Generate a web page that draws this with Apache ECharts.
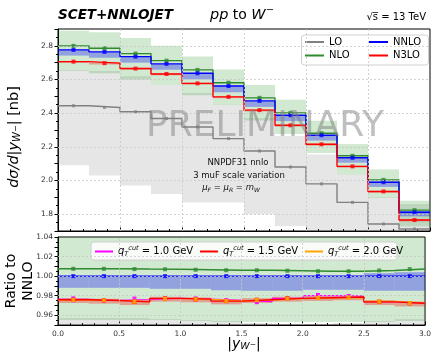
<!DOCTYPE html>
<html><head><meta charset="utf-8">
<script src="https://cdn.jsdelivr.net/npm/echarts@6/dist/echarts.min.js"></script>
<style>html,body{margin:0;padding:0;background:#fff}#c{width:434px;height:352px}</style>
</head><body><div id="c"></div>
<script>
// ---- data (12 bins in |y_W-|) ----
const binEdges = [0, 0.25, 0.5, 0.75, 1.0, 1.25, 1.5, 1.75, 2.0, 2.25, 2.5, 2.75, 3.0];
const yTicksTop = [1.8, 2.0, 2.2, 2.4, 2.6, 2.8];
const yTicksRatio = [0.96, 0.98, 1.00, 1.02];
const xTicks = [0.5, 1.0, 1.5, 2.0, 2.5];

// top panel: dsigma/d|y| [nb]
const lo      = [2.444, 2.434, 2.408, 2.368, 2.318, 2.249, 2.175, 2.080, 1.980, 1.870, 1.742, 1.712];
const loUp    = [2.657, 2.650, 2.620, 2.567, 2.520, 2.450, 2.370, 2.265, 2.155, 2.035, 1.900, 1.860];
const loDn    = [2.090, 2.030, 1.970, 1.920, 1.870, 1.870, 1.800, 1.730, 1.650, 1.560, 1.460, 1.430];
const nlo     = [2.800, 2.786, 2.754, 2.712, 2.657, 2.581, 2.491, 2.402, 2.281, 2.147, 2.004, 1.824];
const nloUp   = [2.889, 2.880, 2.846, 2.800, 2.736, 2.660, 2.567, 2.479, 2.355, 2.216, 2.066, 1.880];
const nloDn   = [2.652, 2.637, 2.600, 2.567, 2.507, 2.448, 2.357, 2.276, 2.163, 2.035, 1.897, 1.727];
const nnlo    = [2.776, 2.764, 2.736, 2.693, 2.637, 2.561, 2.473, 2.388, 2.269, 2.135, 1.990, 1.811];
const nnloUp  = [2.776, 2.764, 2.736, 2.693, 2.637, 2.561, 2.473, 2.388, 2.270, 2.136, 1.995, 1.818];
const nnloDn  = [2.742, 2.729, 2.700, 2.658, 2.601, 2.524, 2.437, 2.353, 2.237, 2.106, 1.962, 1.787];
const n3lo    = [2.706, 2.697, 2.665, 2.633, 2.577, 2.497, 2.418, 2.328, 2.215, 2.084, 1.935, 1.765];
const n3loUp  = [2.710, 2.701, 2.669, 2.637, 2.581, 2.501, 2.422, 2.332, 2.219, 2.088, 1.939, 1.769];
const n3loDn  = [2.698, 2.689, 2.657, 2.625, 2.569, 2.489, 2.410, 2.320, 2.207, 2.076, 1.927, 1.757];

// ratio panel: ratio to NNLO
const rNlo    = [1.0075, 1.0075, 1.0072, 1.0070, 1.0065, 1.0060, 1.0060, 1.0055, 1.0050, 1.0050, 1.0058, 1.0072];
const rNloUp  = [1.045, 1.045, 1.045, 1.045, 1.045, 1.045, 1.045, 1.045, 1.045, 1.045, 1.045, 1.045];
const rNloDn  = [0.955, 0.955, 0.955, 0.955, 0.954, 0.953, 0.953, 0.953, 0.953, 0.953, 0.953, 0.954];
const rNnlo   = [1.000, 1.000, 1.000, 1.000, 1.000, 1.000, 1.000, 1.000, 1.000, 1.000, 1.000, 1.000];
const rNnloUp = [1.000, 1.000, 1.000, 1.000, 1.000, 1.000, 1.000, 1.000, 1.000, 1.000, 1.003, 1.004];
const rNnloDn = [0.988, 0.988, 0.988, 0.987, 0.987, 0.9855, 0.985, 0.985, 0.986, 0.986, 0.985, 0.985];
const rLoUp   = [0.957, 0.957, 0.957, 0.956, 0.955, 0.954, 0.952, 0.951, 0.951, 0.952, 0.954, 0.956];
const rLoDn   = [0.880, 0.880, 0.880, 0.880, 0.880, 0.880, 0.880, 0.880, 0.880, 0.880, 0.880, 0.880];
const rQ10    = [0.9762, 0.9752, 0.9760, 0.9772, 0.9765, 0.9752, 0.9740, 0.9772, 0.9800, 0.9795, 0.9737, 0.9723];
const rQ15    = [0.9758, 0.9751, 0.9737, 0.9772, 0.9765, 0.9744, 0.9758, 0.9772, 0.9779, 0.9786, 0.9737, 0.9723];
const rQ20    = [0.9755, 0.9752, 0.9740, 0.9770, 0.9762, 0.9746, 0.9755, 0.9770, 0.9776, 0.9782, 0.9740, 0.9725];
const rQ15Up  = [0.9775, 0.9768, 0.9754, 0.9789, 0.9782, 0.9761, 0.9775, 0.9789, 0.9796, 0.9803, 0.9754, 0.9740];
const rQ15Dn  = [0.9725, 0.9718, 0.9704, 0.9739, 0.9732, 0.9711, 0.9725, 0.9739, 0.9746, 0.9753, 0.9704, 0.9690];
const errQ10  = [0.0025, 0.0015, 0.0025, 0.0012, 0.0022, 0.0015, 0.0022, 0.0012, 0.0022, 0.0015, 0.0015, 0.0012];
const errQ15  = [0.0015, 0.0012, 0.0015, 0.0012, 0.0015, 0.0012, 0.0015, 0.0012, 0.0015, 0.0012, 0.0015, 0.0012];

// ---- helpers ----
const FONT = 'DejaVu Sans';
const centers = binEdges.slice(0, -1).map((e, i) => (e + binEdges[i + 1]) / 2);
function steps(v) { const d = v.map((y, i) => [binEdges[i], y]); d.push([binEdges[binEdges.length - 1], v[v.length - 1]]); return d; }
function pts(v) { return v.map((y, i) => [centers[i], y]); }
function band(ax, lower, upper, color, z) {
  return { type: 'custom', xAxisIndex: ax, yAxisIndex: ax, z: z, silent: true,
    data: lower.map((l, i) => [binEdges[i], binEdges[i + 1], l, upper[i]]),
    encode: { x: [0, 1], y: [2, 3] },
    renderItem: function (params, api) {
      const p0 = api.coord([api.value(0), api.value(3)]);
      const p1 = api.coord([api.value(1), api.value(2)]);
      const cs = params.coordSys;
      const r = echarts.graphic.clipRectByRect({ x: p0[0], y: p0[1], width: p1[0] - p0[0], height: p1[1] - p0[1] },
        { x: cs.x, y: cs.y, width: cs.width, height: cs.height });
      if (!r) return;
      return { type: 'rect', shape: r, style: { fill: color } };
    } };
}
function errbars(ax, vals, errs, color, z) {
  return { type: 'custom', xAxisIndex: ax, yAxisIndex: ax, z: z, silent: true,
    data: vals.map((v, i) => [centers[i], v - errs[i], v + errs[i]]),
    encode: { x: 0, y: [1, 2] },
    renderItem: function (params, api) {
      const a = api.coord([api.value(0), api.value(1)]);
      const b = api.coord([api.value(0), api.value(2)]);
      return { type: 'group', children: [
        { type: 'line', shape: { x1: a[0], y1: a[1], x2: b[0], y2: b[1] }, style: { stroke: color, lineWidth: 1 } },
        { type: 'line', shape: { x1: a[0] - 2, y1: a[1], x2: a[0] + 2, y2: a[1] }, style: { stroke: color, lineWidth: 1 } },
        { type: 'line', shape: { x1: b[0] - 2, y1: b[1], x2: b[0] + 2, y2: b[1] }, style: { stroke: color, lineWidth: 1 } } ] };
    } };
}
function stepLine(ax, name, vals, color, z) {
  return { type: 'line', name: name, xAxisIndex: ax, yAxisIndex: ax, step: 'end', data: steps(vals), z: z,
    symbol: 'none', lineStyle: { color: color, width: 1.4 }, itemStyle: { color: color }, silent: true, animation: false };
}
function marks(ax, vals, color, z, size) {
  return { type: 'scatter', xAxisIndex: ax, yAxisIndex: ax, data: pts(vals), z: z, symbol: 'rect',
    symbolSize: size || 4, itemStyle: { color: color }, silent: true };
}
function grids(ax, yList) {
  return { type: 'line', xAxisIndex: ax, yAxisIndex: ax, data: [], z: 2.5, silent: true,
    markLine: { silent: true, symbol: 'none', label: { show: false }, animation: false,
      lineStyle: { type: [2, 2], color: '#c8c8c8', width: 0.8 },
      data: yList.map(v => ({ yAxis: v })).concat(xTicks.map(v => ({ xAxis: v }))) } };
}

const GRAY = '#808080', GREEN = '#2e8b2e', BLUE = '#0000ff', RED = '#ff0000', MAG = '#ff00ff', ORANGE = '#ffa500';
const xCommon = {
  type: 'value', min: 0, max: 3, interval: 0.5,
  axisLine: { lineStyle: { color: '#000', width: 1 } },
  axisTick: { inside: true, length: 3.5, lineStyle: { color: '#000' } },
  minorTick: { show: true, splitNumber: 5, length: 2, lineStyle: { color: '#000' } },
  splitLine: { show: false }
};

const chart = echarts.init(document.getElementById('c'), null, { renderer: 'canvas' });
const qLabel = { q10: '1.0', q15: '1.5', q20: '2.0' };
const qRich = {
  q: { fontFamily: FONT, fontStyle: 'italic', fontSize: 10, color: '#000' },
  t: { fontFamily: FONT, fontStyle: 'italic', fontSize: 6.5, color: '#000', padding: [5, 0, 0, 0] },
  c: { fontFamily: FONT, fontStyle: 'italic', fontSize: 6.5, color: '#000', padding: [0, 0, 6, 0] },
  n: { fontFamily: FONT, fontSize: 10, color: '#000' }
};
function qLegend(name, left) {
  return { data: [name], left: left, top: 245, padding: 0, itemWidth: 18, itemHeight: 2, icon: 'rect', itemGap: 0,
    selectedMode: false, formatter: n => '{q|q}{t|T}{c|cut}{n| = ' + qLabel[n] + ' GeV}',
    textStyle: { rich: qRich, fontFamily: FONT, fontSize: 10 } };
}
const legTop = { orient: 'vertical', padding: 0, itemWidth: 19, itemHeight: 2, icon: 'rect', itemGap: 1.5, top: 36,
  selectedMode: false, textStyle: { fontSize: 10, color: '#000', fontFamily: FONT, lineHeight: 12 } };

chart.setOption({
  animation: false,
  textStyle: { fontFamily: FONT },
  grid: [
    { left: 58, top: 29, width: 372, height: 202, show: true, borderColor: '#000', borderWidth: 1, backgroundColor: 'transparent' },
    { left: 58, top: 237, width: 372, height: 88, show: true, borderColor: '#000', borderWidth: 1, backgroundColor: 'transparent' }
  ],
  xAxis: [
    Object.assign({}, xCommon, { gridIndex: 0, axisLabel: { show: false } }),
    Object.assign({}, xCommon, { gridIndex: 1, axisLabel: { show: true, fontSize: 7.5, color: '#333', margin: 5, fontFamily: FONT,
      formatter: v => v.toFixed(1) } })
  ],
  yAxis: [
    { type: 'value', gridIndex: 0, min: 1.7, max: 2.9, interval: 0.1,
      axisLine: { show: true, lineStyle: { color: '#000' } },
      axisTick: { show: true, length: 3.5, lineStyle: { color: '#000' } },
      minorTick: { show: true, splitNumber: 2, length: 2, lineStyle: { color: '#000' } },
      splitLine: { show: false },
      axisLabel: { fontSize: 7.5, color: '#333', margin: 5, fontFamily: FONT,
        formatter: v => (Math.round(v * 10) % 2 === 0 ? v.toFixed(1) : '') } },
    { type: 'value', gridIndex: 1, min: 0.95, max: 1.04, interval: 0.01,
      axisLine: { show: true, lineStyle: { color: '#000' } },
      axisTick: { show: true, length: 3.5, lineStyle: { color: '#000' } },
      minorTick: { show: true, splitNumber: 2, length: 2, lineStyle: { color: '#000' } },
      splitLine: { show: false },
      axisLabel: { fontSize: 7.5, color: '#333', margin: 5, fontFamily: FONT,
        formatter: v => (Math.round(v * 100) % 2 === 0 ? v.toFixed(2) : '') } }
  ],
  legend: [
    Object.assign({ data: ['LO', 'NLO'], left: 305 }, legTop),
    Object.assign({ data: ['NNLO', 'N3LO'], left: 369 }, legTop),
    qLegend('q10', 95), qLegend('q15', 200), qLegend('q20', 305)
  ],
  graphic: [
    { type: 'rect', shape: { x: 301.5, y: 35, width: 127, height: 30, r: 3 }, z: 3,
      style: { fill: 'rgba(255,255,255,0.85)', stroke: '#d0d0d0', lineWidth: 1 } },
    { type: 'rect', shape: { x: 91, y: 242, width: 306, height: 18, r: 3 }, z: 3,
      style: { fill: 'rgba(255,255,255,0.85)', stroke: '#d0d0d0', lineWidth: 1 } },
    { type: 'text', left: 58, top: 8, z: 10,
      style: { text: 'SCET+NNLOJET', fontFamily: FONT, fontWeight: 'bold', fontStyle: 'italic', fontSize: 13.5, fill: '#000' } },
    { type: 'text', x: 242, y: 15, z: 10,
      style: { text: '{i|pp} to {i|W}{s|−}', align: 'center', verticalAlign: 'middle', fill: '#000',
        rich: { i: { fontFamily: FONT, fontStyle: 'italic', fontSize: 14.5, fill: '#000' },
                s: { fontFamily: FONT, fontSize: 10, fill: '#000', padding: [0, 0, 9, 0] } },
        fontFamily: FONT, fontSize: 14 } },
    { type: 'text', x: 426, y: 17, z: 10,
      style: { text: '√s\u0305 = 13 TeV', align: 'right', verticalAlign: 'middle', fontFamily: FONT, fontSize: 10, fill: '#000' } },
    { type: 'text', x: 14, y: 137, rotation: Math.PI / 2, z: 10,
      style: { text: '{i|dσ/d}|{i|y}{b|W}{c|−}| [nb]', align: 'center', verticalAlign: 'middle', fill: '#000',
        fontFamily: FONT, fontSize: 14.5,
        rich: { i: { fontFamily: FONT, fontStyle: 'italic', fontSize: 14.5, fill: '#000' },
                b: { fontFamily: FONT, fontStyle: 'italic', fontSize: 10, fill: '#000', padding: [7, 0, 0, 0] },
                c: { fontFamily: FONT, fontSize: 8, fill: '#000', padding: [3, 0, 0, 0] } } } },
    { type: 'text', x: 20, y: 281, rotation: Math.PI / 2, z: 10,
      style: { text: 'Ratio to\nNNLO', align: 'center', verticalAlign: 'middle', fontFamily: FONT, fontSize: 14,
        lineHeight: 17, fill: '#000' } },
    { type: 'text', x: 244, y: 344, z: 10,
      style: { text: '|{i|y}{b|W}{c|−}|', align: 'center', verticalAlign: 'middle', fill: '#000', fontFamily: FONT, fontSize: 14,
        rich: { i: { fontFamily: FONT, fontStyle: 'italic', fontSize: 14, fill: '#000' },
                b: { fontFamily: FONT, fontStyle: 'italic', fontSize: 9.5, fill: '#000', padding: [6, 0, 0, 0] },
                c: { fontFamily: FONT, fontSize: 7.5, fill: '#000', padding: [3, 0, 0, 0] } } } },
    { type: 'text', x: 265, y: 127, z: 6,
      style: { text: 'PRELIMINARY', align: 'center', verticalAlign: 'middle', fontFamily: FONT, fontSize: 36,
        fill: 'rgba(128,128,128,0.5)' } },
    { type: 'text', x: 238, y: 163, z: 6,
      style: { text: 'NNPDF31 nnlo', align: 'center', verticalAlign: 'middle', fontFamily: FONT, fontSize: 8.5, fill: '#111' } },
    { type: 'text', x: 239, y: 176, z: 6,
      style: { text: '3 muF scale variation', align: 'center', verticalAlign: 'middle', fontFamily: FONT, fontSize: 8.5, fill: '#111' } },
    { type: 'text', x: 231, y: 188, z: 6,
      style: { text: '{i|μ}{b|F} = {i|μ}{b|R} = {i|m}{b|W}', align: 'center', verticalAlign: 'middle', fill: '#111',
        fontFamily: FONT, fontSize: 8.5,
        rich: { i: { fontFamily: FONT, fontStyle: 'italic', fontSize: 8.5, fill: '#111' },
                b: { fontFamily: FONT, fontStyle: 'italic', fontSize: 6, fill: '#111', padding: [4, 0, 0, 0] } } } }
  ],
  series: [
    // top panel bands
    band(0, loDn, loUp, 'rgba(128,128,128,0.2)', 1),
    band(0, nloDn, nloUp, 'rgba(0,128,0,0.18)', 1.1),
    band(0, nnloDn, nnloUp, 'rgba(0,0,255,0.3)', 1.2),
    band(0, n3loDn, n3loUp, 'rgba(255,0,0,0.3)', 1.3),
    grids(0, yTicksTop),
    stepLine(0, 'LO', lo, GRAY, 3),
    stepLine(0, 'NLO', nlo, GREEN, 3.1),
    stepLine(0, 'NNLO', nnlo, BLUE, 3.2),
    stepLine(0, 'N3LO', n3lo, RED, 3.3),
    marks(0, lo, GRAY, 3.5, 3), marks(0, nlo, GREEN, 3.5), marks(0, nnlo, BLUE, 3.5), marks(0, n3lo, RED, 3.5),
    // ratio panel bands
    band(1, rLoDn, rLoUp, 'rgba(128,128,128,0.2)', 1),
    band(1, rNloDn, rNloUp, 'rgba(0,128,0,0.18)', 1.1),
    band(1, rNnloDn, rNnloUp, 'rgba(0,0,255,0.3)', 1.2),
    band(1, rQ15Dn, rQ15Up, 'rgba(255,0,0,0.3)', 1.3),
    grids(1, yTicksRatio),
    stepLine(1, 'NLOr', rNlo, GREEN, 3.1),
    stepLine(1, 'NNLOr', rNnlo, BLUE, 3.2),
    marks(1, rNlo, GREEN, 3.5), marks(1, rNnlo, BLUE, 3.5),
    stepLine(1, 'q10', rQ10, MAG, 3.3),
    stepLine(1, 'q20', rQ20, ORANGE, 3.4),
    stepLine(1, 'q15', rQ15, RED, 3.5),
    errbars(1, rQ10, errQ10, MAG, 3.6), marks(1, rQ10, MAG, 3.6),
    errbars(1, rQ15, errQ15, RED, 3.7), marks(1, rQ15, RED, 3.7),
    errbars(1, rQ20, errQ15, ORANGE, 3.8), marks(1, rQ20, ORANGE, 3.8)
  ]
});
</script></body></html>
